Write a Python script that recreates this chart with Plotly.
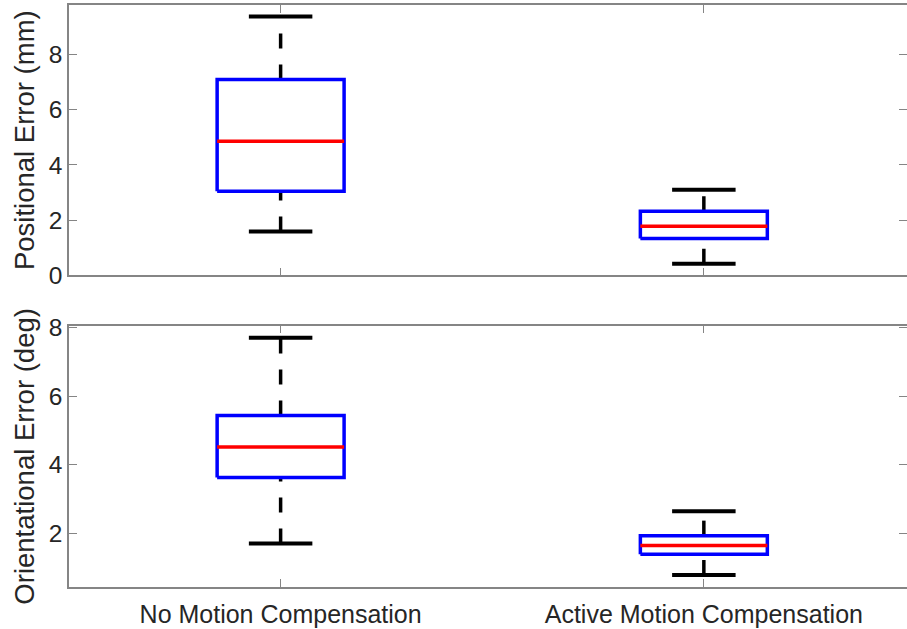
import plotly.graph_objects as go

# Categories along the x axis
categories = ["No Motion Compensation", "Active Motion Compensation"]
positions = [1, 2]

# Positional error (mm): box-plot statistics per category
pos_lower = [1.59, 0.42]
pos_q1 = [3.05, 1.33]
pos_median = [4.86, 1.78]
pos_q3 = [7.10, 2.32]
pos_upper = [9.38, 3.10]

# Orientational error (deg): box-plot statistics per category
ori_lower = [1.70, 0.78]
ori_q1 = [3.63, 1.39]
ori_median = [4.52, 1.64]
ori_q3 = [5.44, 1.93]
ori_upper = [7.71, 2.64]

BOX_HALF = 0.15
CAP_HALF = 0.075
BLUE = "#0000ff"
RED = "#ff0000"
BLACK = "#000000"
AXIS_GREY = "#858585"
TEXT = "#262626"
FONT = "Liberation Sans, Arial, Helvetica, sans-serif"

fig = go.Figure()


def add_boxes(xref, yref, lower, q1, med, q3, upper):
    for c, lo, a, m, b, hi in zip(positions, lower, q1, med, q3, upper):
        common = dict(xaxis=xref, yaxis=yref, mode="lines", hoverinfo="skip",
                      showlegend=False)
        # dashed whiskers, drawn from the low end towards the high end
        fig.add_trace(go.Scatter(x=[c, c], y=[lo, a],
                                 line=dict(color=BLACK, width=3.5, dash="15px,16px"),
                                 **common))
        fig.add_trace(go.Scatter(x=[c, c], y=[b, hi],
                                 line=dict(color=BLACK, width=3.5, dash="15px,16px"),
                                 **common))
        # whisker caps
        fig.add_trace(go.Scatter(x=[c - CAP_HALF, c + CAP_HALF], y=[lo, lo],
                                 line=dict(color=BLACK, width=4), **common))
        fig.add_trace(go.Scatter(x=[c - CAP_HALF, c + CAP_HALF], y=[hi, hi],
                                 line=dict(color=BLACK, width=4), **common))
        # interquartile box
        fig.add_trace(go.Scatter(
            x=[c - BOX_HALF, c + BOX_HALF, c + BOX_HALF, c - BOX_HALF, c - BOX_HALF],
            y=[a, a, b, b, a],
            line=dict(color=BLUE, width=3.5), **common))
        # median
        fig.add_trace(go.Scatter(x=[c - BOX_HALF, c + BOX_HALF], y=[m, m],
                                 line=dict(color=RED, width=3.5), **common))


add_boxes("x", "y", pos_lower, pos_q1, pos_median, pos_q3, pos_upper)
add_boxes("x2", "y2", ori_lower, ori_q1, ori_median, ori_q3, ori_upper)

axis_common = dict(
    showgrid=False, zeroline=False, showline=True, linecolor=AXIS_GREY,
    linewidth=1.5, mirror="ticks", ticks="inside", ticklen=8, tickwidth=1,
    tickcolor=AXIS_GREY, tickfont=dict(family=FONT, size=24.5, color=TEXT),
    automargin=False,
)
x_font = dict(family=FONT, size=25, color=TEXT)
title_font = dict(family=FONT, size=27.5, color=TEXT)

fig.update_layout(
    width=907, height=629,
    margin=dict(l=69, r=0, t=5, b=41.5, autoexpand=False),
    paper_bgcolor="white", plot_bgcolor="white",
    font=dict(family=FONT, color=TEXT),
    xaxis=dict(domain=[0, 1], anchor="y", range=[0.5, 2.48],
               tickvals=positions, ticktext=categories, showticklabels=False,
               **axis_common),
    yaxis=dict(domain=[0.5356, 1], anchor="x", range=[0, 9.8],
               tickvals=[0, 2, 4, 6, 8],
               title=dict(text="Positional Error (mm)", standoff=6,
                          font=title_font),
               **axis_common),
    xaxis2=dict(domain=[0, 1], anchor="y2", range=[0.5, 2.48],
                tickvals=positions, ticktext=categories, ticklabelstandoff=4,
                **{**axis_common, "tickfont": x_font}),
    yaxis2=dict(domain=[0, 0.4489], anchor="x2", range=[0.43, 8.06],
                tickvals=[2, 4, 6, 8],
                title=dict(text="Orientational Error (deg)", standoff=6,
                           font=title_font),
                **axis_common),
)

fig.write_html("out.html")
